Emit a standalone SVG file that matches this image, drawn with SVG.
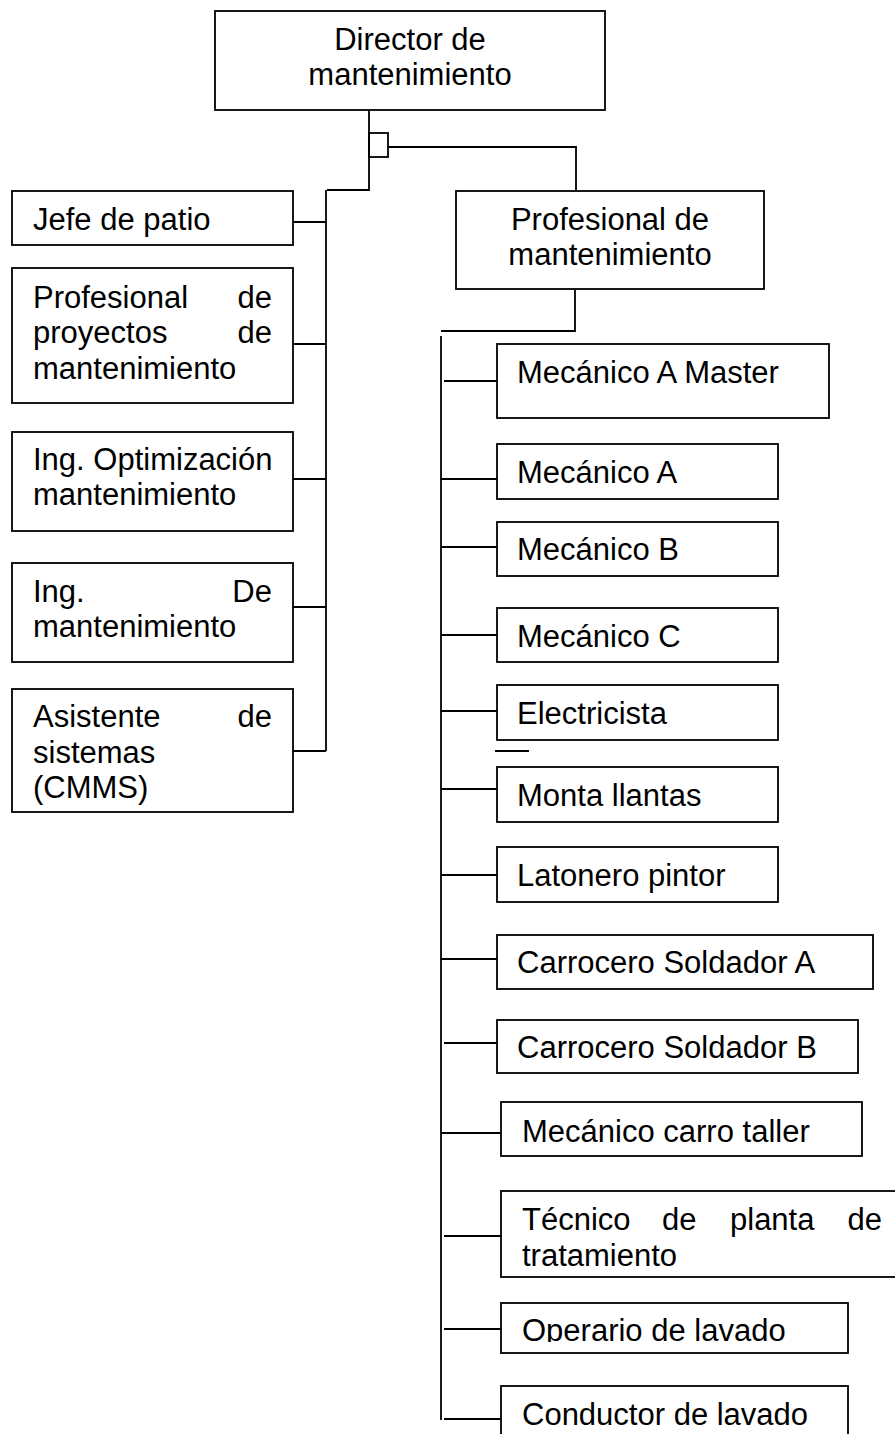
<svg xmlns="http://www.w3.org/2000/svg" width="895" height="1434" viewBox="0 0 895 1434">
<style>
.box{fill:#fff;stroke:#000;stroke-width:1.8}
.ln{fill:none;stroke:#000;stroke-width:1.8}
text{font-family:"Liberation Sans",Arial,sans-serif;font-size:31px;fill:#000}
.c{text-anchor:middle}
.e{text-anchor:end}
</style>
<defs>
<clipPath id="clipOp"><rect x="500" y="1302" width="350" height="40"/></clipPath>
</defs>
<rect width="895" height="1434" fill="#fff"/>
<g id="connectors">
<path class="ln" d="M369,110 V190 H327"/>
<rect class="ln" x="369" y="133" width="19" height="24"/>
<path class="ln" d="M388,147 H576 V191"/>
<path class="ln" d="M326,190 V751"/>
<path class="ln" d="M293,222 H326"/>
<path class="ln" d="M293,344 H326"/>
<path class="ln" d="M293,479 H326"/>
<path class="ln" d="M293,607 H326"/>
<path class="ln" d="M293,751 H326"/>
<path class="ln" d="M575,290 V331 H441"/>
<path class="ln" d="M441,336 V1420"/>
<path class="ln" d="M444,381 H502"/>
<path class="ln" d="M441,479 H497"/>
<path class="ln" d="M441,547 H497"/>
<path class="ln" d="M441,635 H497"/>
<path class="ln" d="M441,711 H497"/>
<path class="ln" d="M495,751 H529"/>
<path class="ln" d="M441,789 H497"/>
<path class="ln" d="M441,875 H497"/>
<path class="ln" d="M441,959 H497"/>
<path class="ln" d="M444,1043 H497"/>
<path class="ln" d="M441,1133 H501"/>
<path class="ln" d="M444,1236 H501"/>
<path class="ln" d="M444,1329 H501"/>
<path class="ln" d="M444,1419 H501"/>
</g>
<g id="director">
<rect class="box" x="215" y="11" width="390" height="99"/>
<text class="c" x="410" y="50">Director de</text>
<text class="c" x="410" y="85">mantenimiento</text>
</g>
<g id="jefe-patio">
<rect class="box" x="12" y="191" width="281" height="54"/>
<text x="33" y="230">Jefe de patio</text>
</g>
<g id="prof-proyectos">
<rect class="box" x="12" y="268" width="281" height="135"/>
<text x="33" y="308">Profesional</text><text class="e" x="272" y="308">de</text>
<text x="33" y="343">proyectos</text><text class="e" x="272" y="343">de</text>
<text x="33" y="379">mantenimiento</text>
</g>
<g id="ing-optimizacion">
<rect class="box" x="12" y="432" width="281" height="99"/>
<text x="33" y="470">Ing. Optimización</text>
<text x="33" y="505">mantenimiento</text>
</g>
<g id="ing-mantenimiento">
<rect class="box" x="12" y="563" width="281" height="99"/>
<text x="33" y="602">Ing.</text><text class="e" x="272" y="602">De</text>
<text x="33" y="637">mantenimiento</text>
</g>
<g id="asistente">
<rect class="box" x="12" y="689" width="281" height="123"/>
<text x="33" y="727">Asistente</text><text class="e" x="272" y="727">de</text>
<text x="33" y="763">sistemas</text>
<text x="33" y="798">(CMMS)</text>
</g>
<g id="prof-mantenimiento">
<rect class="box" x="456" y="191" width="308" height="98"/>
<text class="c" x="610" y="230">Profesional de</text>
<text class="c" x="610" y="265">mantenimiento</text>
</g>
<g id="mec-a-master">
<rect class="box" x="497" y="344" width="332" height="74"/>
<text x="517" y="383">Mecánico A Master</text>
</g>
<g id="mec-a">
<rect class="box" x="497" y="444" width="281" height="55"/>
<text x="517" y="483">Mecánico A</text>
</g>
<g id="mec-b">
<rect class="box" x="497" y="522" width="281" height="54"/>
<text x="517" y="560">Mecánico B</text>
</g>
<g id="mec-c">
<rect class="box" x="497" y="608" width="281" height="54"/>
<text x="517" y="647">Mecánico C</text>
</g>
<g id="electricista">
<rect class="box" x="497" y="685" width="281" height="55"/>
<text x="517" y="724">Electricista</text>
</g>
<g id="monta-llantas">
<rect class="box" x="497" y="767" width="281" height="55"/>
<text x="517" y="806">Monta llantas</text>
</g>
<g id="latonero">
<rect class="box" x="497" y="847" width="281" height="55"/>
<text x="517" y="886">Latonero pintor</text>
</g>
<g id="carrocero-a">
<rect class="box" x="497" y="935" width="376" height="54"/>
<text x="517" y="973">Carrocero Soldador A</text>
</g>
<g id="carrocero-b">
<rect class="box" x="497" y="1020" width="361" height="53"/>
<text x="517" y="1058">Carrocero Soldador B</text>
</g>
<g id="mec-carro-taller">
<rect class="box" x="501" y="1102" width="361" height="54"/>
<text x="522" y="1142">Mecánico carro taller</text>
</g>
<g id="tecnico-planta">
<rect class="box" x="501" y="1191" width="400" height="86"/>
<text x="522" y="1230">Técnico</text>
<text x="662" y="1230">de</text>
<text x="730" y="1230">planta</text>
<text class="e" x="882" y="1230">de</text>
<text x="522" y="1266">tratamiento</text>
</g>
<g id="operario-lavado">
<rect class="box" x="501" y="1303" width="347" height="50"/>
<text x="522" y="1341" clip-path="url(#clipOp)">Operario de lavado</text>
</g>
<g id="conductor-lavado">
<rect class="box" x="501" y="1386" width="347" height="60"/>
<text x="522" y="1425">Conductor de lavado</text>
</g>
</svg>
